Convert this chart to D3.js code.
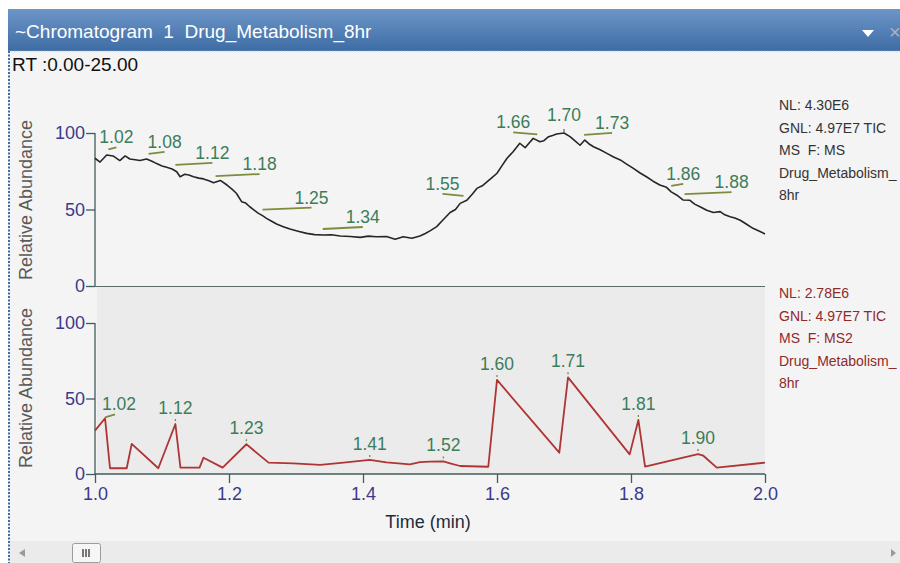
<!DOCTYPE html>
<html>
<head>
<meta charset="utf-8">
<script src="https://cdn.jsdelivr.net/npm/d3@7/dist/d3.min.js"></script>
<style>
  html, body { margin: 0; padding: 0; background: #ffffff; }
  svg { display: block; font-family: "Liberation Sans", Arial, sans-serif; }
</style>
</head>
<body>
<svg id="chart" width="900" height="563"></svg>
<script>
// ---- data ---------------------------------------------------------------
// Full scan (MS) trace: retention time (min) and relative abundance (%)
const msTime = [1.000,1.0075,1.0175,1.027,1.037,1.045,1.052,1.060,1.067,1.077,1.085,1.092,1.100,1.107,1.115,1.122,1.127,1.134,1.140,1.147,1.155,1.162,1.170,1.177,1.187,1.197,1.204,1.211,1.219,1.225,1.231,1.238,1.244,1.250,1.256,1.263,1.271,1.281,1.291,1.303,1.316,1.328,1.341,1.353,1.366,1.381,1.396,1.408,1.420,1.435,1.448,1.460,1.473,1.485,1.493,1.500,1.510,1.520,1.530,1.538,1.545,1.555,1.563,1.570,1.578,1.585,1.593,1.600,1.608,1.615,1.624,1.634,1.642,1.648,1.654,1.664,1.670,1.677,1.683,1.689,1.700,1.709,1.716,1.724,1.731,1.737,1.744,1.754,1.764,1.774,1.784,1.794,1.803,1.813,1.823,1.833,1.843,1.853,1.860,1.868,1.878,1.888,1.895,1.903,1.913,1.923,1.933,1.940,1.948,1.955,1.963,1.972,1.982,1.991,2.000];
const msAbund = [83.5,81,85.6,85,82,85,83,82.5,82,83,81.5,80,78.5,77.6,76.5,74.7,71.4,73,72.5,71.4,70.5,70,68.8,67.5,69,66,63.5,60.6,55,54.2,51.8,49.5,47.5,46,44.2,42.5,40.5,38.8,37.2,35.8,34.4,33.6,33.3,33.5,32.7,32.4,31.8,32.6,32.2,32.4,30.5,32.2,31.2,32.7,34.3,36,38.8,43.5,48,50,54,56,60,63.8,65.5,68,71,73.7,79,83.5,87.8,93.3,90.4,93.5,96.5,94.3,95,97.6,98.4,99.3,100,97.6,95,92,95.4,93,91,89,86.7,84.3,82.4,79.5,77,74,71.4,68.5,66,64.5,61.5,59.5,56.2,56,53.5,51.8,49.5,48,48.6,46.5,45.3,44.5,43,40.5,37.7,36,34];

// MS2 trace
const ms2Time = [1.000,1.015,1.0224,1.0473,1.0548,1.0945,1.120,1.1275,1.156,1.162,1.1905,1.226,1.259,1.296,1.336,1.371,1.410,1.435,1.470,1.485,1.500,1.520,1.530,1.545,1.587,1.600,1.693,1.706,1.798,1.811,1.821,1.900,1.908,1.928,2.000];
const ms2Abund = [28.7,36.9,3.8,3.8,19.9,3.8,33.1,4.2,4.2,10.8,4.2,19.7,7.5,7.1,6,7.5,9.3,7.7,6.4,7.9,8.2,8.3,7.1,5.3,4.8,62.3,14.1,64,13,35.8,4.9,13.2,12.1,4.2,7.5];

// Peak annotations (retention times)
const msPeaks  = [1.02,1.08,1.12,1.18,1.25,1.34,1.55,1.66,1.70,1.73,1.86,1.88];
const ms2Peaks = [1.02,1.12,1.23,1.41,1.52,1.60,1.71,1.81,1.90];

// Axis ticks
const xTicks = [1.0,1.2,1.4,1.6,1.8,2.0];
const yTicks = [0,50,100];

// Header / trace info text
const titleText = "~Chromatogram  1  Drug_Metabolism_8hr";
const rangeText = "RT :0.00-25.00";
const msInfo  = ["NL: 4.30E6","GNL: 4.97E7 TIC","MS  F: MS","Drug_Metabolism_","8hr"];
const ms2Info = ["NL: 2.78E6","GNL: 4.97E7 TIC","MS  F: MS2","Drug_Metabolism_","8hr"];

// ---- layout -------------------------------------------------------------
const W = 900, H = 563;
const plotL = 95, plotR = 765;
const svg = d3.select("#chart");

const x = d3.scaleLinear().domain([1, 2]).range([plotL, plotR]);
const yTop = d3.scaleLinear().domain([0, 100]).range([286, 133]);
const yBot = d3.scaleLinear().domain([0, 100]).range([474, 323]);

// label offsets (px) of each annotation from its peak
const msLabelDx  = [8,16,37,44,49,40,-21,-24,0,28,12,47];
const ms2LabelDx = [8,0,0,0,0,0,0,0,0];

const axisColor = "#435c5c";
const tickText = "#3a3a8c";
const peakText = "#3b7d5a";
const leaderColor = "#7c8c3c";

// ---- window frame --------------------------------------------------------
const grad = svg.append("defs").append("linearGradient")
  .attr("id", "titleGrad").attr("x1", 0).attr("y1", 0).attr("x2", 0).attr("y2", 1);
grad.append("stop").attr("offset", "0%").attr("stop-color", "#6d96c8");
grad.append("stop").attr("offset", "100%").attr("stop-color", "#3d6ca4");

svg.append("rect").attr("x", 0).attr("y", 0).attr("width", W).attr("height", H).attr("fill", "#ffffff");
svg.append("rect").attr("x", 8).attr("y", 51).attr("width", W - 8).attr("height", H - 51).attr("fill", "#f4f4f4");
svg.append("rect").attr("x", 8).attr("y", 9).attr("width", W - 8).attr("height", 42).attr("fill", "url(#titleGrad)");
svg.append("line").attr("x1", 8).attr("x2", W).attr("y1", 51.5).attr("y2", 51.5)
  .attr("stroke", "#d8dde4").attr("stroke-width", 1.5).attr("stroke-dasharray", "1.5,1.5");
svg.append("line").attr("x1", 9).attr("x2", 9).attr("y1", 51).attr("y2", H)
  .attr("stroke", "#3d6ca4").attr("stroke-width", 2).attr("stroke-dasharray", "2,1.5");

svg.append("text").attr("x", 15).attr("y", 38).attr("fill", "#ffffff")
  .attr("font-size", 19).style("white-space", "pre").text(titleText);
svg.append("path").attr("d", "M862,30 L874,30 L868,37 Z").attr("fill", "#ffffff");
svg.append("text").attr("x", 889).attr("y", 39).attr("fill", "#a9b4c0").attr("font-size", 20).text("×");

svg.append("text").attr("x", 12).attr("y", 71).attr("fill", "#111").attr("font-size", 19).text(rangeText);

// ---- scroll bar ----------------------------------------------------------
svg.append("rect").attr("x", 10).attr("y", 541).attr("width", W - 10).attr("height", 22).attr("fill", "#ebebeb");
svg.append("path").attr("d", "M19,553 L25,549 L25,557 Z").attr("fill", "#9a9a9a");
svg.append("path").attr("d", "M896,553 L891,549 L891,557 Z").attr("fill", "#9a9a9a");
svg.append("rect").attr("x", 72.5).attr("y", 543.5).attr("width", 28).attr("height", 19).attr("rx", 2)
  .attr("fill", "#f6f6f6").attr("stroke", "#9c9c9c");
[83, 86, 89].forEach(px => svg.append("line").attr("x1", px).attr("x2", px).attr("y1", 549).attr("y2", 557)
  .attr("stroke", "#333").attr("stroke-width", 1.3));

// ---- MS2 panel background ----------------------------------------------
svg.append("rect").attr("x", plotL + 2).attr("y", yTop(0)).attr("width", plotR - plotL - 2)
  .attr("height", yBot(0) - yTop(0)).attr("fill", "#ebebeb");
svg.append("line").attr("x1", plotL).attr("x2", plotR).attr("y1", yTop(0) + 0.5).attr("y2", yTop(0) + 0.5)
  .attr("stroke", "#5d6b6b").attr("stroke-width", 1.2);

// ---- axes ----------------------------------------------------------------
function yAxis(scale) {
  const g = svg.append("g").attr("transform", `translate(${plotL},0)`);
  g.call(d3.axisLeft(scale).tickValues(d3.range(0, 101, 10)).tickSize(5).tickFormat(""));
  g.call(d3.axisLeft(scale).tickValues(yTicks).tickSize(9).tickPadding(1).tickFormat(d3.format("d")));
  g.selectAll("path, line").attr("stroke", axisColor).attr("stroke-width", 1.3);
  g.selectAll(".domain").attr("d", `M0,${scale(0)}V${scale(100)}`);
  g.selectAll("text").attr("fill", tickText).attr("font-size", 18)
    .attr("font-family", "'Liberation Sans', Arial, sans-serif");
  return g;
}
yAxis(yTop);
yAxis(yBot);

const xg = svg.append("g").attr("transform", `translate(0,${yBot(0)})`);
xg.call(d3.axisBottom(x).ticks(100).tickSize(2).tickFormat(""));
xg.call(d3.axisBottom(x).tickValues(d3.range(1.1, 2, 0.2)).tickSize(6).tickFormat(""));
xg.call(d3.axisBottom(x).tickValues(xTicks).tickSize(9).tickPadding(4).tickFormat(d3.format(".1f")));
xg.selectAll("path, line").attr("stroke", axisColor).attr("stroke-width", 1.3);
xg.select(".domain").attr("d", `M${plotL},0H${plotR}`);
xg.selectAll("text").attr("fill", tickText).attr("font-size", 18)
  .attr("font-family", "'Liberation Sans', Arial, sans-serif");

svg.append("text").attr("x", 428).attr("y", 528).attr("text-anchor", "middle")
  .attr("fill", "#1c2c3c").attr("font-size", 18).text("Time (min)");

[[yTop, 200], [yBot, 388]].forEach(([s, cy]) => {
  svg.append("text").attr("transform", `translate(32,${cy}) rotate(-90)`)
    .attr("text-anchor", "middle").attr("fill", "#5a5a5a").attr("font-size", 18)
    .text("Relative Abundance");
});

// ---- traces --------------------------------------------------------------
const msData = msTime.map((t, i) => [t, msAbund[i]]);
const ms2Data = ms2Time.map((t, i) => [t, ms2Abund[i]]);

svg.append("path").datum(msData)
  .attr("d", d3.line().x(d => x(d[0])).y(d => yTop(d[1])))
  .attr("fill", "none").attr("stroke", "#262626").attr("stroke-width", 1.6).attr("stroke-linejoin", "round");
svg.append("path").datum(ms2Data)
  .attr("d", d3.line().x(d => x(d[0])).y(d => yBot(d[1])))
  .attr("fill", "none").attr("stroke", "#b03434").attr("stroke-width", 1.8).attr("stroke-linejoin", "round");

// ---- peak annotations ----------------------------------------------------
function abundAt(times, vals, t) {
  const i = d3.bisectLeft(times, t);
  if (i <= 0) return vals[0];
  if (i >= times.length) return vals[vals.length - 1];
  const t0 = times[i - 1], t1 = times[i];
  return vals[i - 1] + (vals[i] - vals[i - 1]) * (t - t0) / (t1 - t0);
}

// index of the apex of a peak near a given retention time
function apexIndex(times, vals, rt) {
  let best = -1;
  times.forEach((t, k) => {
    if (Math.abs(t - rt) <= 0.012 && (best < 0 || vals[k] > vals[best])) best = k;
  });
  return best;
}

msPeaks.forEach((rt, i) => {
  const px = x(rt), py = yTop(abundAt(msTime, msAbund, rt));
  const dx = msLabelDx[i];
  if (dx === 0) {
    svg.append("line").attr("x1", px).attr("x2", px).attr("y1", py - 1).attr("y2", py - 4)
      .attr("stroke", leaderColor).attr("stroke-width", 1.5);
  } else {
    svg.append("line").attr("x1", px).attr("x2", px + dx).attr("y1", py - 6).attr("y2", py - 8)
      .attr("stroke", leaderColor).attr("stroke-width", 1.8);
  }
  svg.append("text").attr("x", px + dx).attr("y", py - 12).attr("text-anchor", "middle")
    .attr("fill", peakText).attr("font-size", 17.5).text(rt.toFixed(2));
});

ms2Peaks.forEach((rt, i) => {
  const j = apexIndex(ms2Time, ms2Abund, rt);
  const px = x(ms2Time[j]), py = yBot(ms2Abund[j]);
  const dx = ms2LabelDx[i];
  if (dx === 0) {
    svg.append("line").attr("x1", px).attr("x2", px).attr("y1", py - 5).attr("y2", py - 3)
      .attr("stroke", leaderColor).attr("stroke-width", 1.3);
    svg.append("text").attr("x", px).attr("y", py - 10).attr("text-anchor", "middle")
      .attr("fill", peakText).attr("font-size", 17.5).text(rt.toFixed(2));
  } else {
    svg.append("line").attr("x1", px).attr("x2", px + dx + 2).attr("y1", py - 1).attr("y2", py - 4)
      .attr("stroke", leaderColor).attr("stroke-width", 1.8);
    svg.append("text").attr("x", px + dx + 6).attr("y", py - 8).attr("text-anchor", "middle")
      .attr("fill", peakText).attr("font-size", 17.5).text(rt.toFixed(2));
  }
});

// ---- trace info ----------------------------------------------------------
msInfo.forEach((s, i) => svg.append("text").attr("x", 779).attr("y", 110 + i * 22.5)
  .attr("fill", "#333").attr("font-size", 14).style("white-space", "pre").text(s));
ms2Info.forEach((s, i) => svg.append("text").attr("x", 779).attr("y", 298 + i * 22.5)
  .attr("fill", "#8e2a2a").attr("font-size", 14).style("white-space", "pre").text(s));
</script>
</body>
</html>
